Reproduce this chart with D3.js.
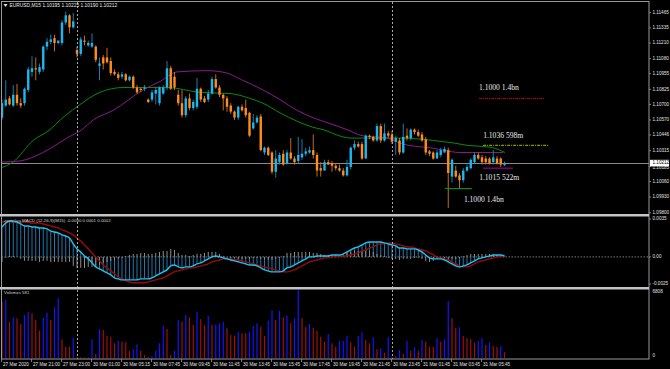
<!DOCTYPE html>
<html>
<head>
<meta charset="utf-8">
<script src="https://cdn.jsdelivr.net/npm/d3@7"></script>
<style>
  body { margin: 0; background: #000; overflow: hidden; }
  text { font-family: "Liberation Sans", Arial, sans-serif; }
</style>
</head>
<body>
<div id="chart"></div>
<script>
// EURUSD M15 candles, bar 0 = 27 Mar 2020 ~19:00, last bar = 31 Mar 06:15

const openP = [
  1.1059,1.1069,1.1075,1.1069,1.1078,1.1071,1.1071,1.1082,1.1097,1.1100,
  1.1097,1.1099,1.1118,1.1122,1.1125,1.1121,1.1121,1.1138,1.1144,1.1134,
  1.1115,1.1112,1.1123,1.1119,1.1118,1.1118,1.1102,1.1109,1.1109,1.1106,
  1.1097,1.1095,1.1093,1.1095,1.1090,1.1093,1.1084,1.1083,1.1083,1.1074,
  1.1074,1.1079,1.1071,1.1079,1.1084,1.1100,1.1093,1.1078,1.1071,1.1061,
  1.1075,1.1067,1.1068,1.1083,1.1075,1.1074,1.1079,1.1091,1.1084,1.1078,
  1.1075,1.1069,1.1064,1.1059,1.1068,1.1067,1.1063,1.1050,1.1055,1.1060,
  1.1030,1.1034,1.1030,1.1014,1.1022,1.1029,1.1021,1.1030,1.1025,1.1023,
  1.1026,1.1029,1.1030,1.1032,1.1028,1.1017,1.1015,1.1022,1.1021,1.1019,
  1.1017,1.1015,1.1011,1.1018,1.1034,1.1037,1.1037,1.1025,1.1044,1.1043,
  1.1040,1.1052,1.1040,1.1046,1.1045,1.1039,1.1040,1.1030,1.1044,1.1042,
  1.1049,1.1047,1.1045,1.1041,1.1031,1.1030,1.1025,1.1028,1.1030,1.1032,
  1.1010,1.1015,1.1011,1.1007,1.1015,1.1017,1.1022,1.1028,1.1026,1.1025,
  1.1025,1.1022,1.1025,1.1025,1.10195
];
const highP = [
  1.1074,1.1090,1.1077,1.1086,1.1087,1.1075,1.1084,1.1101,1.1110,1.1109,
  1.1104,1.1119,1.1125,1.1128,1.1128,1.1123,1.1140,1.1147,1.1145,1.1146,
  1.1118,1.1126,1.1127,1.1123,1.1129,1.1119,1.1109,1.1111,1.1117,1.1109,
  1.1099,1.1097,1.1097,1.1096,1.1094,1.1094,1.1086,1.1084,1.1086,1.1075,
  1.1082,1.1084,1.1085,1.1086,1.1106,1.1102,1.1097,1.1082,1.1082,1.1077,
  1.1079,1.1074,1.1092,1.1084,1.1077,1.1082,1.1093,1.1095,1.1086,1.1079,
  1.1077,1.1071,1.1065,1.1069,1.1070,1.1074,1.1064,1.1062,1.1061,1.1062,
  1.1035,1.1035,1.1031,1.1032,1.1030,1.1032,1.1032,1.1042,1.1027,1.1043,
  1.1041,1.1034,1.1035,1.1045,1.1030,1.1022,1.1024,1.1024,1.1023,1.1021,
  1.1020,1.1017,1.1024,1.1035,1.1040,1.1039,1.1039,1.1045,1.1045,1.1044,
  1.1054,1.1054,1.1054,1.1048,1.1048,1.1044,1.1042,1.1054,1.1050,1.1050,
  1.1050,1.1049,1.1047,1.1043,1.1032,1.1031,1.1032,1.1034,1.1035,1.1034,
  1.1025,1.1019,1.1013,1.1017,1.1020,1.1025,1.1030,1.1030,1.1028,1.1027,
  1.1026,1.1032,1.1027,1.1026,1.10225
];
const lowP = [
  1.1057,1.1068,1.1069,1.1068,1.1069,1.1067,1.1069,1.1080,1.1093,1.1090,
  1.1095,1.1097,1.1115,1.1120,1.1114,1.1120,1.1119,1.1136,1.1129,1.1133,
  1.1109,1.1110,1.1119,1.1118,1.1117,1.1105,1.1090,1.1099,1.1104,1.1094,
  1.1094,1.1090,1.1091,1.1089,1.1089,1.1083,1.1079,1.1080,1.1081,1.1071,
  1.1072,1.1070,1.1069,1.1078,1.1082,1.1082,1.1082,1.1069,1.1059,1.1059,
  1.1065,1.1065,1.1066,1.1072,1.1071,1.1072,1.1078,1.1083,1.1076,1.1065,
  1.1064,1.1062,1.1057,1.1057,1.1064,1.1059,1.1043,1.1049,1.1054,1.1031,
  1.1028,1.1027,1.1012,1.1009,1.1020,1.1019,1.1020,1.1024,1.1020,1.1021,
  1.1024,1.1027,1.1029,1.1025,1.1010,1.1010,1.1015,1.1020,1.1014,1.1015,
  1.1014,1.1010,1.1010,1.1016,1.1032,1.1034,1.1024,1.1025,1.1041,1.1039,
  1.1039,1.1038,1.1039,1.1042,1.1037,1.1028,1.1028,1.1029,1.1040,1.1040,
  1.1045,1.1043,1.1039,1.1028,1.1027,1.1024,1.1025,1.1026,1.1030,1.0984,
  1.1005,1.1009,1.1000,1.1005,1.1014,1.1016,1.1021,1.1024,1.1020,1.1020,
  1.1020,1.1020,1.1020,1.1018,1.10190
];
const closeP = [
  1.1071,1.1074,1.1070,1.1078,1.1071,1.1069,1.1083,1.1099,1.1100,1.1099,
  1.1101,1.1118,1.1122,1.1124,1.1121,1.1123,1.1138,1.1144,1.1134,1.1139,
  1.1112,1.1124,1.1122,1.1121,1.1121,1.1107,1.1104,1.1104,1.1105,1.1096,
  1.1095,1.1092,1.1095,1.1090,1.1093,1.1084,1.1080,1.1082,1.1084,1.1072,
  1.1080,1.1082,1.1084,1.1084,1.1100,1.1083,1.1084,1.1071,1.1061,1.1075,
  1.1067,1.1072,1.1083,1.1074,1.1072,1.1079,1.1091,1.1084,1.1078,1.1075,
  1.1068,1.1064,1.1059,1.1068,1.1065,1.1061,1.1044,1.1055,1.1059,1.1032,
  1.1034,1.1028,1.1014,1.1025,1.1028,1.1020,1.1030,1.1025,1.1022,1.1028,
  1.1029,1.1031,1.1032,1.1028,1.1015,1.1015,1.1022,1.1020,1.1019,1.1017,
  1.1015,1.1011,1.1018,1.1034,1.1037,1.1035,1.1025,1.1044,1.1043,1.1040,
  1.1052,1.1040,1.1046,1.1044,1.1039,1.1042,1.1030,1.1043,1.1042,1.1049,
  1.1047,1.1044,1.1040,1.1030,1.1029,1.1025,1.1030,1.1032,1.1033,1.1013,
  1.1024,1.1010,1.1007,1.1015,1.1018,1.1024,1.1028,1.1025,1.1022,1.1022,
  1.1021,1.1026,1.1021,1.1020,1.10212
];

const volumes = [
  5630,5800,3630,4070,3970,3400,4300,4630,4470,3800,
  2730,4030,4530,3800,5070,5970,1870,1130,1100,2030,
  130,70,60,50,1870,400,2870,2800,2200,2130,
  1470,1730,1630,1570,700,870,1370,730,300,100,
  150,730,1470,3200,2900,300,730,3800,3630,4300,
  4070,3300,4630,3870,3300,4200,3300,3350,3470,3630,
  2970,2300,2250,2630,2470,2450,2630,3200,3470,3130,
  2200,3730,4800,3800,4700,4070,4230,3470,3970,6808,
  3970,3130,3400,3030,2700,2130,1630,2400,1470,1130,
  1700,1730,2230,1570,1130,2200,2570,1800,1470,2070,
  870,970,530,2070,100,200,800,400,1730,730,
  1070,730,1800,1630,1130,1100,1970,1630,1870,5700,
  3970,3030,3070,2200,1970,1870,1530,1700,1970,1300,
  1570,1230,1130,1200,581
];

const macdMain = [
  0.00276,0.00313,0.00332,0.00332,0.00322,0.00304,0.00286,0.00286,0.00276,0.00276,
  0.00267,0.00267,0.00258,0.00239,0.00230,0.00221,0.00203,0.00193,0.00175,0.00120,
  0.00074,0.00046,0.00009,-0.00018,-0.00055,-0.00092,-0.00111,-0.00129,-0.00147,-0.00166,
  -0.00193,-0.00203,-0.00212,-0.00212,-0.00212,-0.00212,-0.00212,-0.00203,-0.00203,-0.00203,
  -0.00193,-0.00175,-0.00157,-0.00138,-0.00120,-0.00083,-0.00074,-0.00092,-0.00101,-0.00092,
  -0.00092,-0.00083,-0.00064,-0.00055,-0.00037,-0.00018,0,0.00009,0,-0.00009,
  -0.00018,-0.00028,-0.00037,-0.00046,-0.00055,-0.00064,-0.00074,-0.00074,-0.00083,-0.00101,
  -0.00120,-0.00129,-0.00138,-0.00138,-0.00138,-0.00129,-0.00101,-0.00092,-0.00074,-0.00055,
  -0.00037,-0.00018,0,0,0.00009,0.00009,0.00009,0.00009,0.00018,0.00018,
  0.00018,0.00028,0.00046,0.00064,0.00083,0.00092,0.00111,0.00129,0.00138,0.00138,
  0.00138,0.00138,0.00129,0.00120,0.00111,0.00101,0.00083,0.00083,0.00074,0.00074,
  0.00074,0.00064,0.00046,0.00018,-0.00009,-0.00018,-0.00018,-0.00018,-0.00028,-0.00046,
  -0.00064,-0.00083,-0.00092,-0.00083,-0.00074,-0.00055,-0.00037,-0.00018,-0.00009,0,
  0.00009,0.00018,0.00018,0.00018,0.00009
];
const macdSignal = [
  0.00322,0.00322,0.00322,0.00322,0.00322,0.00322,0.00322,0.00322,0.00313,0.00313,
  0.00313,0.00304,0.00295,0.00286,0.00276,0.00267,0.00249,0.00239,0.00221,0.00203,
  0.00175,0.00147,0.00111,0.00074,0.00037,0,-0.00037,-0.00074,-0.00101,-0.00129,
  -0.00157,-0.00184,-0.00203,-0.00221,-0.00230,-0.00239,-0.00239,-0.00239,-0.00239,-0.00230,
  -0.00221,-0.00212,-0.00203,-0.00193,-0.00175,-0.00157,-0.00138,-0.00129,-0.00120,-0.00111,
  -0.00101,-0.00101,-0.00092,-0.00083,-0.00074,-0.00064,-0.00046,-0.00037,-0.00028,-0.00018,
  -0.00018,-0.00018,-0.00028,-0.00028,-0.00037,-0.00046,-0.00055,-0.00064,-0.00074,-0.00083,
  -0.00092,-0.00101,-0.00111,-0.00120,-0.00129,-0.00138,-0.00138,-0.00129,-0.00120,-0.00101,
  -0.00083,-0.00064,-0.00046,-0.00037,-0.00028,-0.00018,-0.00009,-0.00009,0,0,
  0.00009,0.00009,0.00009,0.00018,0.00028,0.00037,0.00055,0.00064,0.00083,0.00092,
  0.00111,0.00120,0.00120,0.00129,0.00129,0.00120,0.00111,0.00101,0.00092,0.00092,
  0.00083,0.00074,0.00064,0.00055,0.00037,0.00018,0,-0.00009,-0.00018,-0.00028,
  -0.00046,-0.00064,-0.00083,-0.00092,-0.00092,-0.00083,-0.00064,-0.00046,-0.00037,-0.00028,
  -0.00018,-0.00009,0,0.00009,0.00009
];

// moving averages at these bar positions
const maGreenBars = [-0.5,2.9,8.3,12.8,15.5,20,26.1,32.3,36.8,44,52.8,60.8,66.1,69.6,74.1,78.7,82.9,85.6,90.9,92.8,100.8,105.3,112.3,117.6,120.3,124,128.3,130.9,134.1];
const maGreenVals = [1.1017,1.1022,1.1040,1.1049,1.1057,1.1068,1.1080,1.1084,1.1084,1.1084,1.1080,1.1079,1.1075,1.1071,1.1063,1.1056,1.1051,1.1049,1.1043,1.1042,1.1042,1.1042,1.1041,1.1039,1.1038,1.1036,1.1035,1.1034,1.1030];
const maPurpleBars = [-0.5,4.8,10.9,17.3,21.3,24.3,29.6,37.6,42.1,46.7,54.7,60,63.5,69.6,74.1,78.7,82.9,87.5,92,96,102.7,106.9,110.7,114.1,117.6,122.1,133.6];
const maPurpleVals = [1.1022,1.1023,1.1030,1.1042,1.1049,1.1057,1.1065,1.1082,1.1089,1.1097,1.1098,1.1096,1.1091,1.1082,1.1074,1.1065,1.1059,1.1054,1.1049,1.1044,1.1042,1.1037,1.1035,1.1034,1.1032,1.1030,1.1030];

// option expiry levels
const levelPrices = [1.1075, 1.1036, 1.1017, 1.1000];
const levelFromBars = [127.2, 128.3, 128.3, 118.1];
const levelToBars = [144.8, 145.9, 136.3, 125.3];
const levelLabels = ["1.1000 1.4bn", "1.1036 598m", "1.1015 522m", "1.1000 1.4bn"];

const priceTicks = ["1.11465","1.11335","1.11210","1.11080","1.10955","1.10825","1.10700","1.10570","1.10446","1.10315","1.10185","1.10060","1.09930","1.09800"];
const macdTicks = ["0.0035","0.00","-0.0025"];
const volTicks = ["6808","0"];
const timeLabels = ["27 Mar 2020","27 Mar 21:00","27 Mar 23:00","30 Mar 01:00","30 Mar 05:15","30 Mar 07:45","30 Mar 09:45","30 Mar 11:45","30 Mar 13:45","30 Mar 15:45","30 Mar 17:45","30 Mar 19:45","30 Mar 21:45","30 Mar 23:45","31 Mar 01:45","31 Mar 03:45","31 Mar 05:45"];
const daySeparatorBars = [20, 104];
const lastPrice = 1.10212;

// ---------- layout ----------
const width = 670, height = 369;
const plotLeft = 1.5, plotRight = 649;
const mainTop = 2, mainBottom = 214;
const macdTop = 216.5, macdBottom = 287;
const volTop = 289.5, volBottom = 359;

const svg = d3.select("#chart").append("svg")
  .attr("width", width).attr("height", height)
  .style("background", "#000");

const x = d3.scaleLinear().domain([0, 1]).range([2, 5.75]);
const yPrice = d3.scaleLinear().domain([1.09800, 1.11465]).range([212.7, 12.3]);
const yMacd = d3.scaleLinear().domain([-0.0025, 0.0035]).range([284, 219]);
const yVol = d3.scaleLinear().domain([0, 6808]).range([358, 290]);

const defs = svg.append("defs");
function clip(id, top, bottom) {
  defs.append("clipPath").attr("id", id).append("rect")
    .attr("x", plotLeft).attr("y", top).attr("width", plotRight - plotLeft).attr("height", bottom - top);
  return svg.append("g").attr("clip-path", `url(#${id})`);
}
const gMain = clip("cm", mainTop, mainBottom);
const gMacd = clip("cd", macdTop, macdBottom);
const gVol = clip("cv", volTop, volBottom - 0.5);

const bars = d3.range(openP.length);

// current price line
gMain.append("line")
  .attr("x1", plotLeft).attr("x2", plotRight)
  .attr("y1", Math.round(yPrice(lastPrice)) + 0.5).attr("y2", Math.round(yPrice(lastPrice)) + 0.5)
  .attr("stroke", "#8a8a8a").attr("stroke-width", 1);

// day separators
svg.append("g").selectAll("line").data(daySeparatorBars).join("line")
  .attr("x1", d => Math.round(x(d)) + 0.5).attr("x2", d => Math.round(x(d)) + 0.5)
  .attr("y1", mainTop).attr("y2", volBottom)
  .attr("stroke", "#a8a8a8").attr("stroke-width", 1).attr("stroke-dasharray", "2,2");

// moving averages
const maLine = d3.line().x(d => x(d[0])).y(d => yPrice(d[1])).curve(d3.curveMonotoneX);
gMain.append("path").datum(d3.zip(maGreenBars, maGreenVals))
  .attr("d", maLine).attr("fill", "none").attr("stroke", "#0a8a0a").attr("stroke-width", 1);
gMain.append("path").datum(d3.zip(maPurpleBars, maPurpleVals))
  .attr("d", maLine).attr("fill", "none").attr("stroke", "#8c1a8c").attr("stroke-width", 1);

// candles
const bullColor = "#1ab8f0", bearColor = "#ff8c1a";
const candle = gMain.append("g").selectAll("g").data(bars).join("g");
candle.append("line")
  .attr("x1", i => x(i)).attr("x2", i => x(i))
  .attr("y1", i => yPrice(highP[i])).attr("y2", i => yPrice(lowP[i]))
  .attr("stroke", i => closeP[i] >= openP[i] ? "#1a8cc0" : "#d9781a")
  .attr("stroke-width", 0.9);
candle.append("rect")
  .attr("x", i => x(i) - 1.2).attr("width", 2.4)
  .attr("y", i => yPrice(Math.max(openP[i], closeP[i])))
  .attr("height", i => Math.max(1, Math.abs(yPrice(openP[i]) - yPrice(closeP[i]))))
  .attr("fill", i => closeP[i] >= openP[i] ? bullColor : bearColor);

// levels
const levelStroke = ["#c40000", "#b8b800", "#b000b0", "#10a010"];
const levelDash = ["3,1,1,1", "3,1,1,1", null, null];
const levelLabelDy = [-10, -9, 10, 12];
const levelLabelDx = [0, 0, -4, 19];
levelPrices.forEach((p, k) => {
  gMain.append("line")
    .attr("x1", x(levelFromBars[k])).attr("x2", x(levelToBars[k]))
    .attr("y1", yPrice(p)).attr("y2", yPrice(p))
    .attr("stroke", levelStroke[k]).attr("stroke-width", 1)
    .attr("stroke-dasharray", levelDash[k]);
  gMain.append("text")
    .attr("x", x(levelFromBars[k]) + levelLabelDx[k])
    .attr("y", yPrice(p) + levelLabelDy[k])
    .attr("dominant-baseline", "middle")
    .style("font-family", "'Liberation Serif', 'Times New Roman', serif")
    .style("font-size", "7.6px").attr("fill", "#e8e8e8")
    .text(levelLabels[k]);
});

// MACD panel
const macdBlue = "#1f78a8";
gMacd.append("line").attr("x1", plotLeft).attr("x2", plotRight)
  .attr("y1", yMacd(0)).attr("y2", yMacd(0))
  .attr("stroke", "#9a9a9a").attr("stroke-width", 0.8).attr("stroke-dasharray", "1.5,1.5");
gMacd.append("g").selectAll("line").data(bars).join("line")
  .attr("x1", i => x(i)).attr("x2", i => x(i))
  .attr("y1", yMacd(0)).attr("y2", i => yMacd(macdMain[i]))
  .attr("stroke", macdBlue).attr("stroke-width", 1);
gMacd.append("g").selectAll("line").data(bars).join("line")
  .attr("x1", i => x(i)).attr("x2", i => x(i))
  .attr("y1", yMacd(0)).attr("y2", i => yMacd(macdMain[i] - macdSignal[i]))
  .attr("stroke", "#8c8c8c").attr("stroke-width", 1);
const macdLine = d3.line().x(i => x(i)).curve(d3.curveMonotoneX);
gMacd.append("path").datum(bars)
  .attr("d", macdLine.y(i => yMacd(macdSignal[i])))
  .attr("fill", "none").attr("stroke", "#9a0a0a").attr("stroke-width", 1.4);
gMacd.append("path").datum(bars)
  .attr("d", macdLine.y(i => yMacd(macdMain[i])))
  .attr("fill", "none").attr("stroke", "#20c0f0").attr("stroke-width", 1.4);

// volume panel
gVol.append("g").selectAll("line").data(bars).join("line")
  .attr("x1", i => x(i)).attr("x2", i => x(i))
  .attr("y1", yVol(0)).attr("y2", i => yVol(volumes[i]))
  .attr("stroke", i => i > 0 && volumes[i] > volumes[i - 1] ? "#1414ff" : "#a01010")
  .attr("stroke-width", 1.2);

// frame & separators
svg.append("rect").attr("x", plotLeft).attr("y", 1.5)
  .attr("width", plotRight - plotLeft).attr("height", volBottom - 1.5)
  .attr("fill", "none").attr("stroke", "#9a9a9a").attr("stroke-width", 1);
[mainBottom + 1.2, macdBottom + 1.2].forEach(y => {
  svg.append("line").attr("x1", 0).attr("x2", plotRight).attr("y1", y).attr("y2", y)
    .attr("stroke", "#c4c4c4").attr("stroke-width", 2.4);
});

// price axis
const axisFont = "4.6px";
const priceAxis = svg.append("g");
priceTicks.forEach(t => {
  const y = yPrice(+t);
  priceAxis.append("line").attr("x1", plotRight).attr("x2", plotRight + 2)
    .attr("y1", y).attr("y2", y).attr("stroke", "#9a9a9a").attr("stroke-width", 0.8);
  priceAxis.append("text").attr("x", plotRight + 3.5).attr("y", y > 164 && y < 170 ? y + 1.6 : y)
    .attr("dominant-baseline", "middle").style("font-size", axisFont)
    .attr("fill", "#e0e0e0").text(t);
});
// last price box, drawn over the neighbouring tick label as in the terminal
const ly = yPrice(lastPrice);
priceAxis.append("rect").attr("x", plotRight + 1).attr("y", ly - 3.3)
  .attr("width", 19).attr("height", 6.6).attr("fill", "#ffffff");
priceAxis.append("text").attr("x", plotRight + 3.5).attr("y", ly)
  .attr("dominant-baseline", "middle").style("font-size", axisFont)
  .attr("fill", "#000").text(lastPrice.toFixed(5));

const macdAxis = svg.append("g");
macdTicks.forEach(t => {
  const y = yMacd(+t);
  macdAxis.append("line").attr("x1", plotRight).attr("x2", plotRight + 2)
    .attr("y1", y).attr("y2", y).attr("stroke", "#9a9a9a").attr("stroke-width", 0.8);
  macdAxis.append("text").attr("x", plotRight + 3.5).attr("y", y)
    .attr("dominant-baseline", "middle").style("font-size", axisFont)
    .attr("fill", "#e0e0e0").text(t);
});
const volAxis = svg.append("g");
volTicks.forEach(t => {
  volAxis.append("text").attr("x", plotRight + 3.5).attr("y", +t === 0 ? 356 : 291.5)
    .attr("dominant-baseline", "middle").style("font-size", axisFont)
    .attr("fill", "#e0e0e0").text(t);
});

// time axis
const timeAxis = svg.append("g");
timeLabels.forEach((t, k) => {
  const xx = Math.round(x(k * 8)) - 0.5;
  timeAxis.append("line").attr("x1", xx).attr("x2", xx).attr("y1", volBottom).attr("y2", volBottom + 3)
    .attr("stroke", "#9a9a9a").attr("stroke-width", 0.8);
  timeAxis.append("text").attr("x", xx + 1.5).attr("y", volBottom + 5.5)
    .attr("dominant-baseline", "middle").style("font-size", axisFont)
    .attr("fill", "#e0e0e0").text(t);
});

// captions
svg.append("path").attr("d", "M3.5,4 L7.5,4 L5.5,7 Z").attr("fill", "#e0e0e0");
svg.append("text").attr("x", 9.5).attr("y", 5.8).attr("dominant-baseline", "middle")
  .style("font-size", "4.9px").attr("fill", "#e8e8e8")
  .text("EURUSD,M15  1.10195 1.10225 1.10190 1.10212");
const macdCap = svg.append("text").attr("x", 4).attr("y", 220.5).attr("dominant-baseline", "middle")
  .style("font-size", "4.4px");
macdCap.append("tspan").attr("fill", "#b0b0b0").text("zero_lag ");
macdCap.append("tspan").attr("fill", "#d0d0d0").text("MACD (12,26,9)(M15) -0.0000 0.0001 0.0002");
svg.append("text").attr("x", 4).attr("y", 293).attr("dominant-baseline", "middle")
  .style("font-size", "4.4px").attr("fill", "#d0d0d0").text("Volumes 581");
</script>
</body>
</html>
